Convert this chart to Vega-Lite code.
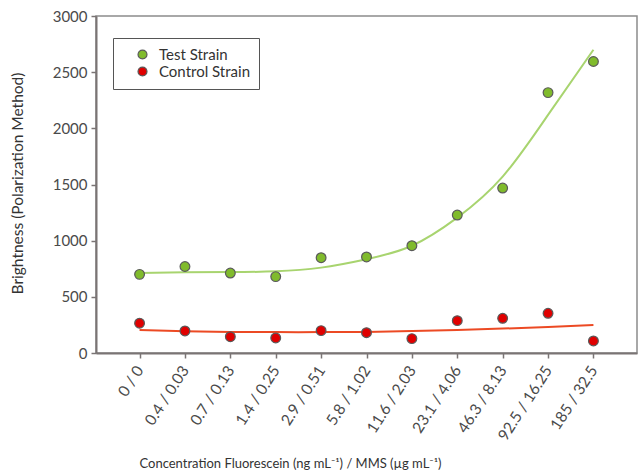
{
  "$schema": "https://vega.github.io/schema/vega-lite/v6.json",
  "width": 541,
  "height": 337,
  "autosize": {"type": "none"},
  "padding": {"left": 96, "top": 16, "right": 1, "bottom": 119},
  "background": "white",
  "config": {
    "font": "Lato",
    "view": {"stroke": "#8c8c8c", "strokeWidth": 1.5},
    "axis": {
      "domainColor": "#7a7474",
      "domainWidth": 2,
      "tickColor": "#7a7474",
      "tickWidth": 1.5,
      "tickSize": 5,
      "labelColor": "#4a4a4a",
      "labelFont": "Lato",
      "titleFont": "Lato",
      "titleColor": "#333333",
      "titleFontWeight": "normal",
      "grid": false
    }
  },
  "data": {
    "values": [
      {"label": "0 / 0", "series": "Test Strain", "value": 700, "fit": 712},
      {"label": "0.4 / 0.03", "series": "Test Strain", "value": 770, "fit": 718},
      {"label": "0.7 / 0.13", "series": "Test Strain", "value": 712, "fit": 720},
      {"label": "1.4 / 0.25", "series": "Test Strain", "value": 680, "fit": 727},
      {"label": "2.9 / 0.51", "series": "Test Strain", "value": 848, "fit": 760},
      {"label": "5.8 / 1.02", "series": "Test Strain", "value": 855, "fit": 835},
      {"label": "11.6 / 2.03", "series": "Test Strain", "value": 955, "fit": 955},
      {"label": "23.1 / 4.06", "series": "Test Strain", "value": 1228, "fit": 1205},
      {"label": "46.3 / 8.13", "series": "Test Strain", "value": 1468, "fit": 1570},
      {"label": "92.5 / 16.25", "series": "Test Strain", "value": 2318, "fit": 2120},
      {"label": "185 / 32.5", "series": "Test Strain", "value": 2595, "fit": 2700},
      {"label": "0 / 0", "series": "Control Strain", "value": 265, "fit": 205},
      {"label": "0.4 / 0.03", "series": "Control Strain", "value": 196, "fit": 193},
      {"label": "0.7 / 0.13", "series": "Control Strain", "value": 145, "fit": 188},
      {"label": "1.4 / 0.25", "series": "Control Strain", "value": 134, "fit": 186},
      {"label": "2.9 / 0.51", "series": "Control Strain", "value": 199, "fit": 186},
      {"label": "5.8 / 1.02", "series": "Control Strain", "value": 181, "fit": 188},
      {"label": "11.6 / 2.03", "series": "Control Strain", "value": 128, "fit": 195},
      {"label": "23.1 / 4.06", "series": "Control Strain", "value": 288, "fit": 205},
      {"label": "46.3 / 8.13", "series": "Control Strain", "value": 309, "fit": 217},
      {"label": "92.5 / 16.25", "series": "Control Strain", "value": 353, "fit": 232},
      {"label": "185 / 32.5", "series": "Control Strain", "value": 107, "fit": 250}
    ]
  },
  "encoding": {
    "x": {
      "field": "label",
      "type": "ordinal",
      "sort": null,
      "scale": {"type": "point", "padding": 0.96},
      "axis": {
        "title": "Concentration Fluorescein (ng mL⁻¹) / MMS (µg mL⁻¹)",
        "labelAngle": -57,
        "labelFontSize": 15.5,
        "labelPadding": 9,
        "titleFontSize": 13,
        "titleX": 194,
        "titleY": 110,
        "titleAlign": "center",
        "titleBaseline": "middle",
        "titleAnchor": null
      }
    },
    "y": {
      "type": "quantitative",
      "scale": {"domain": [0, 3000], "nice": false},
      "axis": {
        "title": "Brightness (Polarization Method)",
        "values": [0, 500, 1000, 1500, 2000, 2500, 3000],
        "format": "d",
        "labelFontSize": 15,
        "labelPadding": 4,
        "titleFontSize": 15.5,
        "titleX": -71,
        "titleY": 167,
        "titleAngle": -90,
        "titleAlign": "center",
        "titleBaseline": "bottom"
      }
    }
  },
  "layer": [
    {
      "transform": [{"filter": "datum.series === 'Test Strain'"}],
      "mark": {"type": "line", "color": "#a8d46f", "strokeWidth": 2, "interpolate": "natural"},
      "encoding": {"y": {"field": "fit", "type": "quantitative"}}
    },
    {
      "transform": [{"filter": "datum.series === 'Control Strain'"}],
      "mark": {"type": "line", "color": "#ec4a24", "strokeWidth": 2, "interpolate": "natural"},
      "encoding": {"y": {"field": "fit", "type": "quantitative"}}
    },
    {
      "mark": {"type": "point", "filled": true, "size": 95, "stroke": "#5a5a5a", "strokeWidth": 1.2, "opacity": 1},
      "encoding": {
        "y": {"field": "value", "type": "quantitative"},
        "fill": {
          "field": "series",
          "type": "nominal",
          "scale": {"domain": ["Test Strain", "Control Strain"], "range": ["#80bb2c", "#e00000"]},
          "legend": {
            "title": null,
            "orient": "none",
            "legendX": 17,
            "legendY": 22,
            "padding": 9,
            "strokeColor": "#555555",
            "symbolStrokeColor": "#5a5a5a",
            "symbolStrokeWidth": 1.2,
            "symbolSize": 80,
            "symbolType": "circle",
            "symbolOffset": 13,
            "labelOffset": 9,
            "labelFontSize": 15,
            "labelColor": "#333333",
            "labelFont": "Lato",
            "rowPadding": 1
          }
        }
      }
    }
  ]
}
